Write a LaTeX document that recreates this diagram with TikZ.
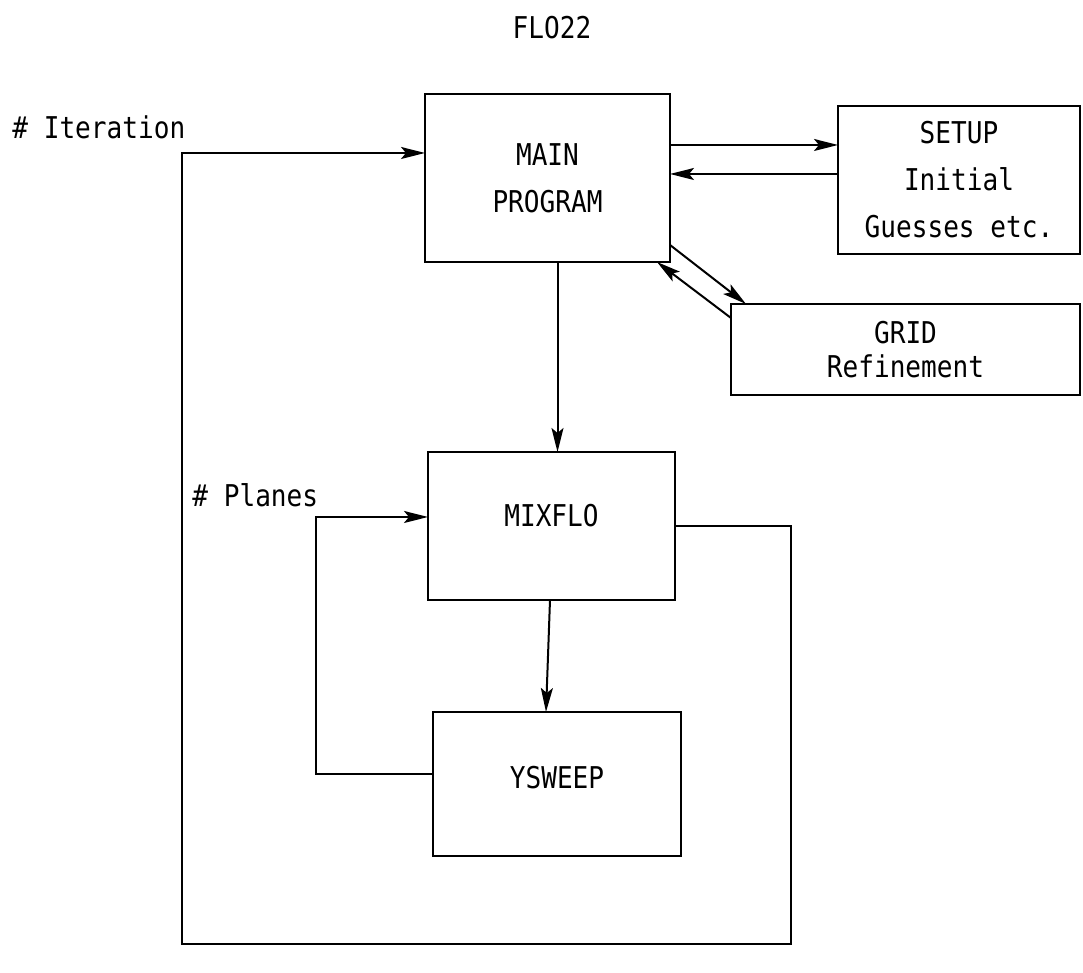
\documentclass[tikz,border=0pt]{standalone}
\usepackage{fontspec}
\newfontfamily\typewr[FakeStretch=0.87]{DejaVu Sans Mono}
\usetikzlibrary{arrows.meta, positioning}

\newcommand{\liftup}[2]{\raisebox{#1}[\height][\depth]{#2}}

\begin{document}
\begin{tikzpicture}[
    x=0.5pt, y=0.5pt,
    box/.style={rectangle, draw, line width=1pt, outer sep=0pt, inner sep=0pt, align=center, font=\typewr\fontsize{15}{23.5}\selectfont},
    arrow/.style={-{Stealth[length=12pt, width=6pt, inset=2.5pt]}, line width=1pt},
    lbl/.style={anchor=west, inner sep=0pt, font=\typewr\fontsize{15}{18}\selectfont}
]
\useasboundingbox (0,0) rectangle (1083,973);

\node[lbl, anchor=center] (title) at (552,945) {FLO22};

% program blocks
\node[box, minimum width=122.5pt, minimum height=84pt] (main) at (547.5,795) {MAIN\\PROGRAM};
\node[box, minimum width=121pt, minimum height=74pt, right=84pt of main, yshift=-1pt] (setup) {SETUP\\Initial\\Guesses etc.};
\node[box, minimum width=174.5pt, minimum height=45.5pt, anchor=north west, font=\typewr\fontsize{15}{17}\selectfont] (grid) at (731,669) {GRID\\Refinement};
\node[box, minimum width=123.5pt, minimum height=74pt, below=95pt of main, xshift=2pt] (mixflo) {\liftup{5pt}{MIXFLO}};
\node[box, minimum width=124pt, minimum height=72pt, below=56pt of mixflo, xshift=2.75pt] (ysweep) {\liftup{3pt}{YSWEEP}};

% loop counters
\node[lbl] (iter) at (12,846) {\# Iteration};
\node[lbl] (planes) at (192,478) {\# Planes};

\coordinate (itL) at (182,820);
\coordinate (itB) at (791,29);
\coordinate (plL) at (316,456);
\path ([yshift=16.5pt]main.east) coordinate (m1) ([yshift=2pt]main.east) coordinate (m2);

\draw[arrow] (m1) -- (m1 -| setup.west);
\draw[arrow] (m2 -| setup.west) -- (m2);
\draw[arrow] ([yshift=8.5pt]main.south east) -- ([xshift=7.5pt]grid.north west);
\draw[arrow] ([yshift=-7pt]grid.north west) -- ([xshift=-6.5pt]main.south east);
\draw[arrow] ([xshift=5pt]main.south) -- ([xshift=3pt]mixflo.north);
\draw[arrow] ([xshift=-0.75pt]mixflo.south) -- ([xshift=-5.5pt]ysweep.north);
\draw[arrow] ([yshift=5pt]ysweep.west) -| (plL) -- (plL -| mixflo.west);
\draw[arrow] (mixflo.east) -| (itB) -| (itL) -- (itL -| main.west);
\end{tikzpicture}
\end{document}
